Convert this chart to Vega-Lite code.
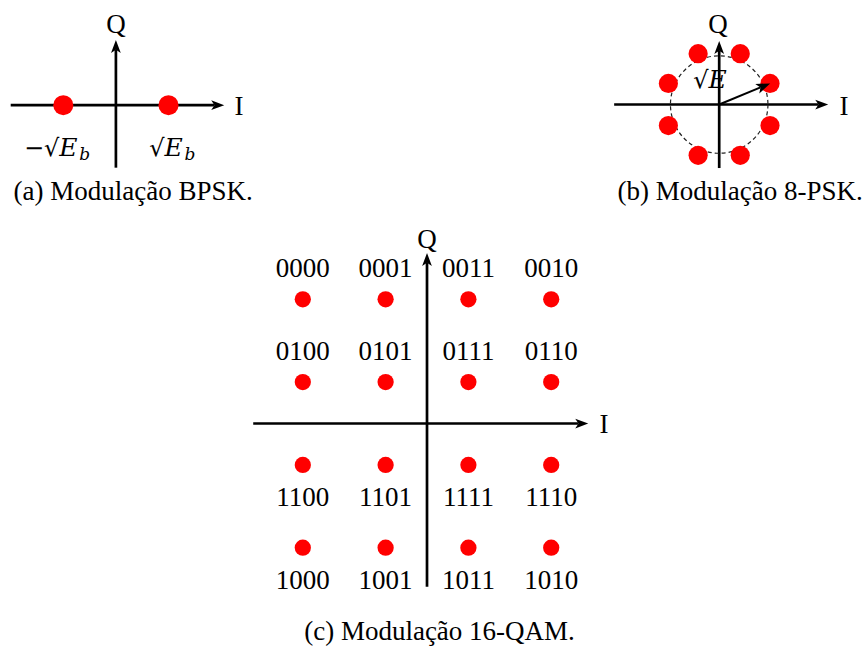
{
  "$schema": "https://vega.github.io/schema/vega-lite/v6.json",
  "padding": 0,
  "background": "white",
  "autosize": {"type": "pad"},
  "config": {"view": {"stroke": null}},
  "datasets": {
    "a_axes": [
      {"axis": "I", "I": -2.0, "Q": 0, "I2": 1.874, "Q2": 0},
      {"axis": "Q", "I": 0, "Q": -1.19, "I2": 0, "Q2": 1.054}
    ],
    "a_points": [
      {"I": -1, "Q": 0, "pre": "−√", "sym": "E", "sub": "b"},
      {"I": 1, "Q": 0, "pre": "√", "sym": "E", "sub": "b"}
    ],
    "a_text": [
      {"I": 0, "Q": 1.367, "text": "Q"},
      {"I": 2.34, "Q": -0.186, "text": "I"},
      {"I": 0.329, "Q": -1.802, "text": "(a) Modulação BPSK."}
    ],
    "b_axes": [
      {"axis": "I", "I": -1.91, "Q": 0, "I2": 1.805, "Q2": 0},
      {"axis": "Q", "I": 0, "Q": -1.155, "I2": 0, "Q2": 0.977}
    ],
    "b_vec": [{"I": 0, "Q": 0, "I2": 0.751, "Q2": 0.311}],
    "b_circle": [{"I": 0, "Q": 0}],
    "b_points": [
      {"I": 0.924, "Q": 0.383},
      {"I": 0.383, "Q": 0.924},
      {"I": -0.383, "Q": 0.924},
      {"I": -0.924, "Q": 0.383},
      {"I": -0.924, "Q": -0.383},
      {"I": -0.383, "Q": -0.924},
      {"I": 0.383, "Q": -0.924},
      {"I": 0.924, "Q": -0.383}
    ],
    "b_label": [{"I": -0.195, "Q": 0.295, "pre": "√", "sym": "E"}],
    "b_text": [
      {"I": -0.02, "Q": 1.295, "text": "Q"},
      {"I": 2.27, "Q": -0.19, "text": "I"},
      {"I": 0.382, "Q": -1.736, "text": "(b) Modulação 8-PSK."}
    ],
    "c_axes": [
      {"axis": "I", "I": -4.198, "Q": 0, "I2": 3.659, "Q2": 0},
      {"axis": "Q", "I": 0, "Q": -3.942, "I2": 0, "Q2": 3.883}
    ],
    "c_points": [
      {"I": -3, "Q": 3, "bits": "0000"},
      {"I": -1, "Q": 3, "bits": "0001"},
      {"I": 1, "Q": 3, "bits": "0011"},
      {"I": 3, "Q": 3, "bits": "0010"},
      {"I": -3, "Q": 1, "bits": "0100"},
      {"I": -1, "Q": 1, "bits": "0101"},
      {"I": 1, "Q": 1, "bits": "0111"},
      {"I": 3, "Q": 1, "bits": "0110"},
      {"I": -3, "Q": -1, "bits": "1100"},
      {"I": -1, "Q": -1, "bits": "1101"},
      {"I": 1, "Q": -1, "bits": "1111"},
      {"I": 3, "Q": -1, "bits": "1110"},
      {"I": -3, "Q": -3, "bits": "1000"},
      {"I": -1, "Q": -3, "bits": "1001"},
      {"I": 1, "Q": -3, "bits": "1011"},
      {"I": 3, "Q": -3, "bits": "1010"}
    ],
    "c_text": [
      {"I": 0, "Q": 4.232, "text": "Q"},
      {"I": 4.275, "Q": -0.237, "text": "I"},
      {"I": 0.302, "Q": -5.229, "text": "(c) Modulação 16-QAM."}
    ]
  },
  "vconcat": [
    {
      "hconcat": [
        {
          "width": 255,
          "height": 205,
          "layer": [
            {
              "data": {"name": "a_axes"},
              "mark": {"type": "rule", "color": "black", "strokeWidth": 2.7, "strokeCap": "butt"},
              "encoding": {
                "x": {"field": "I", "type": "quantitative", "scale": {"domain": [-2.2, 2.648], "nice": false, "zero": false}, "axis": null},
                "y": {"field": "Q", "type": "quantitative", "scale": {"domain": [-1.9, 2.0], "nice": false, "zero": false}, "axis": null},
                "x2": {"field": "I2"},
                "y2": {"field": "Q2"}
              }
            },
            {
              "data": {"name": "a_axes"},
              "transform": [{"filter": "datum.axis === 'I'"}],
              "mark": {"type": "point", "shape": "M1.5,0L-0.5,-0.75L0,0L-0.5,0.75Z", "filled": true, "color": "black", "opacity": 1, "size": 169, "angle": 0},
              "encoding": {
                "x": {"field": "I2", "type": "quantitative", "scale": {"domain": [-2.2, 2.648], "nice": false, "zero": false}, "axis": null},
                "y": {"field": "Q2", "type": "quantitative", "scale": {"domain": [-1.9, 2.0], "nice": false, "zero": false}, "axis": null}
              }
            },
            {
              "data": {"name": "a_axes"},
              "transform": [{"filter": "datum.axis === 'Q'"}],
              "mark": {"type": "point", "shape": "M1.5,0L-0.5,-0.75L0,0L-0.5,0.75Z", "filled": true, "color": "black", "opacity": 1, "size": 169, "angle": 270},
              "encoding": {
                "x": {"field": "I2", "type": "quantitative", "scale": {"domain": [-2.2, 2.648], "nice": false, "zero": false}, "axis": null},
                "y": {"field": "Q2", "type": "quantitative", "scale": {"domain": [-1.9, 2.0], "nice": false, "zero": false}, "axis": null}
              }
            },
            {
              "data": {"name": "a_points"},
              "mark": {"type": "point", "shape": "circle", "filled": true, "color": "#ff0000", "opacity": 1, "size": 400},
              "encoding": {
                "x": {"field": "I", "type": "quantitative", "scale": {"domain": [-2.2, 2.648], "nice": false, "zero": false}, "axis": null},
                "y": {"field": "Q", "type": "quantitative", "scale": {"domain": [-1.9, 2.0], "nice": false, "zero": false}, "axis": null}
              }
            },
            {
              "data": {"name": "a_points"},
              "mark": {"type": "text", "font": "DejaVu Serif", "fontSize": 24, "color": "black", "align": "right", "baseline": "alphabetic", "dx": -4, "dy": 51},
              "encoding": {
                "x": {"field": "I", "type": "quantitative", "scale": {"domain": [-2.2, 2.648], "nice": false, "zero": false}, "axis": null},
                "y": {"field": "Q", "type": "quantitative", "scale": {"domain": [-1.9, 2.0], "nice": false, "zero": false}, "axis": null},
                "text": {"field": "pre"}
              }
            },
            {
              "data": {"name": "a_points"},
              "mark": {"type": "text", "font": "DejaVu Serif", "fontSize": 25, "fontStyle": "italic", "color": "black", "align": "left", "baseline": "alphabetic", "dx": -4, "dy": 51},
              "encoding": {
                "x": {"field": "I", "type": "quantitative", "scale": {"domain": [-2.2, 2.648], "nice": false, "zero": false}, "axis": null},
                "y": {"field": "Q", "type": "quantitative", "scale": {"domain": [-1.9, 2.0], "nice": false, "zero": false}, "axis": null},
                "text": {"field": "sym"}
              }
            },
            {
              "data": {"name": "a_points"},
              "mark": {"type": "text", "font": "DejaVu Serif", "fontSize": 17, "fontStyle": "italic", "color": "black", "align": "left", "baseline": "alphabetic", "dx": 16, "dy": 55},
              "encoding": {
                "x": {"field": "I", "type": "quantitative", "scale": {"domain": [-2.2, 2.648], "nice": false, "zero": false}, "axis": null},
                "y": {"field": "Q", "type": "quantitative", "scale": {"domain": [-1.9, 2.0], "nice": false, "zero": false}, "axis": null},
                "text": {"field": "sub"}
              }
            },
            {
              "data": {"name": "a_text"},
              "mark": {"type": "text", "font": "Liberation Serif", "fontSize": 27, "color": "black", "align": "center", "baseline": "alphabetic"},
              "encoding": {
                "x": {"field": "I", "type": "quantitative", "scale": {"domain": [-2.2, 2.648], "nice": false, "zero": false}, "axis": null},
                "y": {"field": "Q", "type": "quantitative", "scale": {"domain": [-1.9, 2.0], "nice": false, "zero": false}, "axis": null},
                "text": {"field": "text"}
              }
            }
          ]
        },
        {
          "width": 262,
          "height": 205,
          "layer": [
            {
              "data": {"name": "b_axes"},
              "mark": {"type": "rule", "color": "black", "strokeWidth": 2.7, "strokeCap": "butt"},
              "encoding": {
                "x": {"field": "I", "type": "quantitative", "scale": {"domain": [-2.164, 2.6], "nice": false, "zero": false}, "axis": null},
                "y": {"field": "Q", "type": "quantitative", "scale": {"domain": [-1.827, 1.9], "nice": false, "zero": false}, "axis": null},
                "x2": {"field": "I2"},
                "y2": {"field": "Q2"}
              }
            },
            {
              "data": {"name": "b_axes"},
              "transform": [{"filter": "datum.axis === 'I'"}],
              "mark": {"type": "point", "shape": "M1.5,0L-0.5,-0.75L0,0L-0.5,0.75Z", "filled": true, "color": "black", "opacity": 1, "size": 169, "angle": 0},
              "encoding": {
                "x": {"field": "I2", "type": "quantitative", "scale": {"domain": [-2.164, 2.6], "nice": false, "zero": false}, "axis": null},
                "y": {"field": "Q2", "type": "quantitative", "scale": {"domain": [-1.827, 1.9], "nice": false, "zero": false}, "axis": null}
              }
            },
            {
              "data": {"name": "b_axes"},
              "transform": [{"filter": "datum.axis === 'Q'"}],
              "mark": {"type": "point", "shape": "M1.5,0L-0.5,-0.75L0,0L-0.5,0.75Z", "filled": true, "color": "black", "opacity": 1, "size": 169, "angle": 270},
              "encoding": {
                "x": {"field": "I2", "type": "quantitative", "scale": {"domain": [-2.164, 2.6], "nice": false, "zero": false}, "axis": null},
                "y": {"field": "Q2", "type": "quantitative", "scale": {"domain": [-1.827, 1.9], "nice": false, "zero": false}, "axis": null}
              }
            },
            {
              "data": {"name": "b_circle"},
              "mark": {"type": "point", "shape": "circle", "filled": false, "stroke": "#222222", "strokeWidth": 1.2, "strokeDash": [4, 3], "opacity": 1, "size": 9503},
              "encoding": {
                "x": {"field": "I", "type": "quantitative", "scale": {"domain": [-2.164, 2.6], "nice": false, "zero": false}, "axis": null},
                "y": {"field": "Q", "type": "quantitative", "scale": {"domain": [-1.827, 1.9], "nice": false, "zero": false}, "axis": null}
              }
            },
            {
              "data": {"name": "b_points"},
              "mark": {"type": "point", "shape": "circle", "filled": true, "color": "#ff0000", "opacity": 1, "size": 368},
              "encoding": {
                "x": {"field": "I", "type": "quantitative", "scale": {"domain": [-2.164, 2.6], "nice": false, "zero": false}, "axis": null},
                "y": {"field": "Q", "type": "quantitative", "scale": {"domain": [-1.827, 1.9], "nice": false, "zero": false}, "axis": null}
              }
            },
            {
              "data": {"name": "b_vec"},
              "mark": {"type": "rule", "color": "black", "strokeWidth": 2, "strokeCap": "butt"},
              "encoding": {
                "x": {"field": "I", "type": "quantitative", "scale": {"domain": [-2.164, 2.6], "nice": false, "zero": false}, "axis": null},
                "y": {"field": "Q", "type": "quantitative", "scale": {"domain": [-1.827, 1.9], "nice": false, "zero": false}, "axis": null},
                "x2": {"field": "I2"},
                "y2": {"field": "Q2"}
              }
            },
            {
              "data": {"name": "b_vec"},
              "mark": {"type": "point", "shape": "M1.5,0L-0.5,-0.75L0,0L-0.5,0.75Z", "filled": true, "color": "black", "opacity": 1, "size": 196, "angle": 337.5},
              "encoding": {
                "x": {"field": "I2", "type": "quantitative", "scale": {"domain": [-2.164, 2.6], "nice": false, "zero": false}, "axis": null},
                "y": {"field": "Q2", "type": "quantitative", "scale": {"domain": [-1.827, 1.9], "nice": false, "zero": false}, "axis": null}
              }
            },
            {
              "data": {"name": "b_label"},
              "mark": {"type": "text", "font": "DejaVu Serif", "fontSize": 24, "color": "black", "align": "right", "baseline": "alphabetic"},
              "encoding": {
                "x": {"field": "I", "type": "quantitative", "scale": {"domain": [-2.164, 2.6], "nice": false, "zero": false}, "axis": null},
                "y": {"field": "Q", "type": "quantitative", "scale": {"domain": [-1.827, 1.9], "nice": false, "zero": false}, "axis": null},
                "text": {"field": "pre"}
              }
            },
            {
              "data": {"name": "b_label"},
              "mark": {"type": "text", "font": "DejaVu Serif", "fontSize": 25, "fontStyle": "italic", "color": "black", "align": "left", "baseline": "alphabetic"},
              "encoding": {
                "x": {"field": "I", "type": "quantitative", "scale": {"domain": [-2.164, 2.6], "nice": false, "zero": false}, "axis": null},
                "y": {"field": "Q", "type": "quantitative", "scale": {"domain": [-1.827, 1.9], "nice": false, "zero": false}, "axis": null},
                "text": {"field": "sym"}
              }
            },
            {
              "data": {"name": "b_text"},
              "mark": {"type": "text", "font": "Liberation Serif", "fontSize": 27, "color": "black", "align": "center", "baseline": "alphabetic"},
              "encoding": {
                "x": {"field": "I", "type": "quantitative", "scale": {"domain": [-2.164, 2.6], "nice": false, "zero": false}, "axis": null},
                "y": {"field": "Q", "type": "quantitative", "scale": {"domain": [-1.827, 1.9], "nice": false, "zero": false}, "axis": null},
                "text": {"field": "text"}
              }
            }
          ]
        }
      ],
      "spacing": 345,
      "bounds": "flush"
    },
    {
      "width": 380,
      "height": 431,
      "layer": [
        {
          "data": {"name": "c_axes"},
          "mark": {"type": "rule", "color": "black", "strokeWidth": 2.7, "strokeCap": "butt"},
          "encoding": {
            "x": {"field": "I", "type": "quantitative", "scale": {"domain": [-4.481, 4.698], "nice": false, "zero": false}, "axis": null},
            "y": {"field": "Q", "type": "quantitative", "scale": {"domain": [-5.374, 5.036], "nice": false, "zero": false}, "axis": null},
            "x2": {"field": "I2"},
            "y2": {"field": "Q2"}
          }
        },
        {
          "data": {"name": "c_axes"},
          "transform": [{"filter": "datum.axis === 'I'"}],
          "mark": {"type": "point", "shape": "M1.5,0L-0.5,-0.75L0,0L-0.5,0.75Z", "filled": true, "color": "black", "opacity": 1, "size": 169, "angle": 0},
          "encoding": {
            "x": {"field": "I2", "type": "quantitative", "scale": {"domain": [-4.481, 4.698], "nice": false, "zero": false}, "axis": null},
            "y": {"field": "Q2", "type": "quantitative", "scale": {"domain": [-5.374, 5.036], "nice": false, "zero": false}, "axis": null}
          }
        },
        {
          "data": {"name": "c_axes"},
          "transform": [{"filter": "datum.axis === 'Q'"}],
          "mark": {"type": "point", "shape": "M1.5,0L-0.5,-0.75L0,0L-0.5,0.75Z", "filled": true, "color": "black", "opacity": 1, "size": 169, "angle": 270},
          "encoding": {
            "x": {"field": "I2", "type": "quantitative", "scale": {"domain": [-4.481, 4.698], "nice": false, "zero": false}, "axis": null},
            "y": {"field": "Q2", "type": "quantitative", "scale": {"domain": [-5.374, 5.036], "nice": false, "zero": false}, "axis": null}
          }
        },
        {
          "data": {"name": "c_points"},
          "mark": {"type": "point", "shape": "circle", "filled": true, "color": "#ff0000", "opacity": 1, "size": 264},
          "encoding": {
            "x": {"field": "I", "type": "quantitative", "scale": {"domain": [-4.481, 4.698], "nice": false, "zero": false}, "axis": null},
            "y": {"field": "Q", "type": "quantitative", "scale": {"domain": [-5.374, 5.036], "nice": false, "zero": false}, "axis": null}
          }
        },
        {
          "data": {"name": "c_points"},
          "transform": [{"filter": "datum.Q > 0"}],
          "mark": {"type": "text", "font": "Liberation Serif", "fontSize": 27, "color": "black", "align": "center", "baseline": "alphabetic", "dy": -22},
          "encoding": {
            "x": {"field": "I", "type": "quantitative", "scale": {"domain": [-4.481, 4.698], "nice": false, "zero": false}, "axis": null},
            "y": {"field": "Q", "type": "quantitative", "scale": {"domain": [-5.374, 5.036], "nice": false, "zero": false}, "axis": null},
            "text": {"field": "bits"}
          }
        },
        {
          "data": {"name": "c_points"},
          "transform": [{"filter": "datum.Q < 0"}],
          "mark": {"type": "text", "font": "Liberation Serif", "fontSize": 27, "color": "black", "align": "center", "baseline": "alphabetic", "dy": 41},
          "encoding": {
            "x": {"field": "I", "type": "quantitative", "scale": {"domain": [-4.481, 4.698], "nice": false, "zero": false}, "axis": null},
            "y": {"field": "Q", "type": "quantitative", "scale": {"domain": [-5.374, 5.036], "nice": false, "zero": false}, "axis": null},
            "text": {"field": "bits"}
          }
        },
        {
          "data": {"name": "c_text"},
          "mark": {"type": "text", "font": "Liberation Serif", "fontSize": 27, "color": "black", "align": "center", "baseline": "alphabetic"},
          "encoding": {
            "x": {"field": "I", "type": "quantitative", "scale": {"domain": [-4.481, 4.698], "nice": false, "zero": false}, "axis": null},
            "y": {"field": "Q", "type": "quantitative", "scale": {"domain": [-5.374, 5.036], "nice": false, "zero": false}, "axis": null},
            "text": {"field": "text"}
          }
        }
      ]
    }
  ],
  "spacing": 10,
  "center": true
}
